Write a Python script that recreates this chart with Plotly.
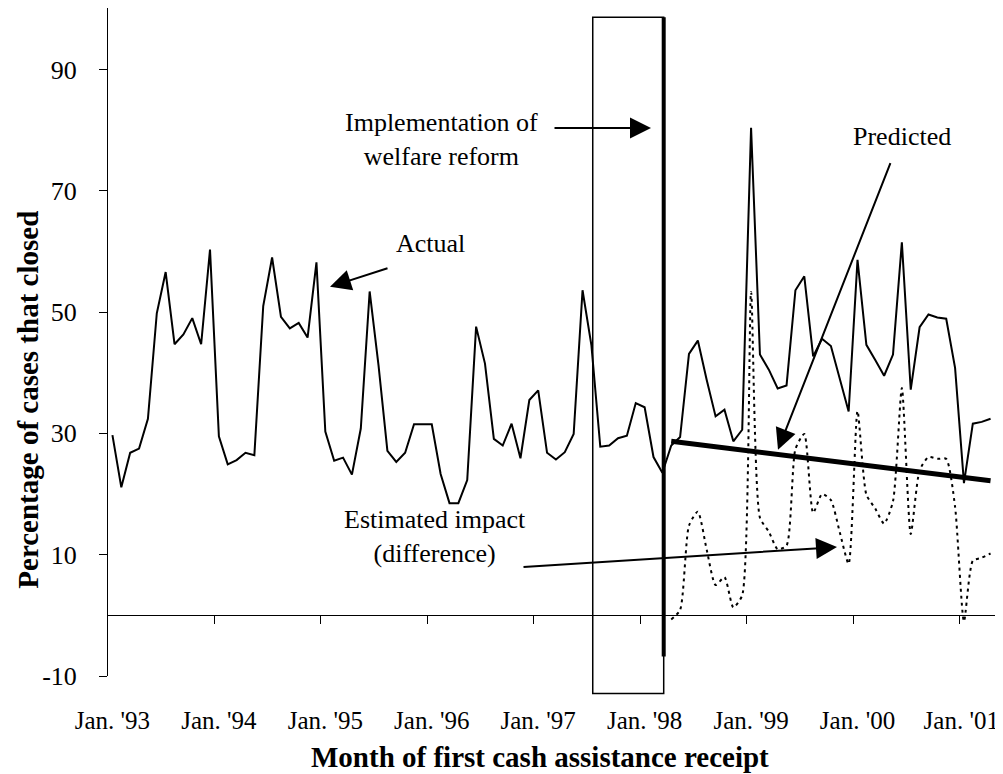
import plotly.graph_objects as go
import pandas as pd

# ---------------- data ----------------
months = pd.date_range("1993-01-01", periods=100, freq="MS")
actual = [29.7, 21.1, 26.8, 27.5, 32.4, 49.8, 56.6, 44.7, 46.3, 49.0, 44.7, 60.3,
          29.5, 24.9, 25.6, 26.8, 26.4, 51.0, 59.0, 49.2, 47.3, 48.2, 45.8, 58.2,
          30.3, 25.5, 26.0, 23.2, 30.8, 53.4, 41.2, 27.1, 25.3, 26.8, 31.5, 31.5,
          31.5, 23.3, 18.5, 18.5, 22.3, 47.6, 41.5, 29.1, 28.0, 31.6, 25.9, 35.5,
          37.1, 26.8, 25.7, 26.9, 29.9, 53.6, 44.5, 27.8, 28.0, 29.2, 29.6, 35.0,
          34.3, 26.1, 23.5, 28.0, 29.4, 43.1, 45.3, 38.8, 32.8, 33.9, 28.7, 30.6,
          80.4, 43.0, 40.5, 37.4, 37.9, 53.6, 55.9, 42.7, 45.6, 44.4, 39.0, 33.6,
          58.6, 44.6, 42.1, 39.5, 43.0, 61.5, 37.2, 47.5, 49.6, 49.1, 48.9, 40.8,
          21.8, 31.6, 31.9, 32.4]
impact_start = 63  # first month (index) after reform
impact = [-0.7, 0.9, 14.8, 17.1, 10.8, 5.0, 6.3, 1.3, 3.3, 53.3, 16.1, 13.8,
          10.9, 11.5, 27.4, 29.9, 16.9, 20.0, 19.0, 13.7, 8.5, 33.7, 19.9, 17.6,
          15.1, 18.8, 37.5, 13.4, 23.9, 26.1, 25.8, 25.8, 17.9, -1.0, 9.0, 9.5, 10.2]
predicted_idx = [63, 99]
predicted = [28.7, 22.2]
year_ticks = [0, 12, 24, 36, 48, 60, 72, 84, 96]
year_labels = ["Jan. '93", "Jan. '94", "Jan. '95", "Jan. '96", "Jan. '97",
               "Jan. '98", "Jan. '99", "Jan. '00", "Jan. '01"]
y_ticks = [-10, 10, 30, 50, 70, 90]
y_labels = ["-10", "10", "30", "50", "70", "90"]

# ---------------- layout constants (page pixels) ----------------
OFF = 8                      # default page margin around the plot div
W, H = 1003 - OFF, 774 - OFF
PLOT_L, PLOT_R, PLOT_T, PLOT_B = 108, 995, 8, 676.5
ML = PLOT_L - OFF
MR = W - (PLOT_R - OFF)
MT = PLOT_T - OFF
MB = H - (PLOT_B - OFF)
YMIN = -10
PX_PER_UNIT = 6.07
YMAX = YMIN + (PLOT_B - PLOT_T) / PX_PER_UNIT
XMIN, XMAX = -0.5, len(actual) - 0.5
FONT = "Liberation Serif"
FS = 26
FS_TICK = 25
FS_TITLE = 29
PW = PLOT_R - PLOT_L
PH = PLOT_B - PLOT_T


def px(x):   # page pixel x -> paper
    return (x - PLOT_L) / PW


def py(y):   # page pixel y -> paper
    return (PLOT_B - y) / PH


def dx(v):   # data x -> paper
    return (v - XMIN) / (XMAX - XMIN)


def dy(v):   # data y -> paper
    return (v - YMIN) / (YMAX - YMIN)


idx = list(range(len(actual)))
impact_idx = list(range(impact_start, impact_start + len(impact)))

# keep the last year label inside the page edge
label_pos = year_ticks[:-1] + [year_ticks[-1] - 0.3]

fig = go.Figure()
fig.add_trace(go.Scatter(x=idx, y=actual, mode="lines",
                         line=dict(color="black", width=2), showlegend=False,
                         hoverinfo="skip"))
fig.add_trace(go.Scatter(x=predicted_idx, y=predicted, mode="lines",
                         line=dict(color="black", width=5), showlegend=False,
                         hoverinfo="skip"))
fig.add_trace(go.Scatter(x=impact_idx, y=impact, mode="lines", xaxis="x2",
                         line=dict(color="black", width=2, dash="3px,4px",
                                   shape="spline", smoothing=0.6),
                         showlegend=False, hoverinfo="skip"))

reform_x = 62.15
box_x0 = 54.15
shapes = [
    dict(type="rect", xref="paper", yref="paper",
         x0=dx(box_x0), x1=dx(reform_x), y0=dy(-12.9), y1=dy(98.6),
         line=dict(color="black", width=1.5), fillcolor="rgba(0,0,0,0)"),
    dict(type="line", xref="paper", yref="paper",
         x0=dx(reform_x), x1=dx(reform_x), y0=dy(-6.8), y1=dy(98.6),
         line=dict(color="black", width=4)),
]

ann = []
txt = dict(xref="paper", yref="paper", showarrow=False,
           font=dict(family=FONT, size=FS, color="black"),
           xanchor="center", yanchor="middle")
ttl = dict(txt, font=dict(family=FONT, size=FS_TITLE, color="black"))
ann.append(dict(txt, x=px(441), y=py(140), text="Implementation of<br>welfare reform"))
ann.append(dict(txt, x=px(430), y=py(244), text="Actual"))
ann.append(dict(txt, x=px(902), y=py(137), text="Predicted"))
ann.append(dict(txt, x=px(435), y=py(537), text="Estimated impact<br>(difference)"))
ann.append(dict(ttl, x=px(540), y=py(758),
                text="<b>Month of first cash assistance receipt</b>"))
ann.append(dict(ttl, x=px(28), y=py(400), textangle=-90,
                text="<b>Percentage of cases that closed</b>"))

arr = dict(xref="paper", yref="paper", showarrow=True, text="",
           arrowhead=2, arrowwidth=2, arrowsize=2.1, arrowcolor="black",
           standoff=0, axref="pixel", ayref="pixel")
ann.append(dict(arr, x=px(651), y=py(128), ax=-98, ay=0))
ann.append(dict(arr, x=px(330), y=py(287), ax=59, ay=-19))
ann.append(dict(arr, x=px(778), y=py(450), ax=113, ay=-288))
ann.append(dict(arr, x=px(837), y=py(547.5), ax=-315, ay=20))

fig.update_layout(
    width=W, height=H,
    margin=dict(l=ML, r=MR, t=MT, b=MB, pad=0, autoexpand=False),
    paper_bgcolor="white", plot_bgcolor="white",
    font=dict(family=FONT, size=FS, color="black"),
    xaxis=dict(range=[XMIN, XMAX], tickvals=label_pos, ticktext=year_labels,
               showline=False, showgrid=False, zeroline=False, automargin=False,
               ticks="outside", ticklen=22, tickcolor="rgba(0,0,0,0)",
               ticklabeloverflow="allow",
               tickfont=dict(family=FONT, size=FS_TICK)),
    xaxis2=dict(range=[XMIN, XMAX], overlaying="x", anchor="free",
                position=dy(0), side="bottom", automargin=False,
                tickvals=[v - 0.5 for v in year_ticks[1:]],
                showticklabels=False, ticks="outside", ticklen=8,
                tickcolor="black", tickwidth=1,
                showline=True, linecolor="black", linewidth=1,
                showgrid=False, zeroline=False),
    yaxis=dict(range=[YMIN, YMAX], tickvals=y_ticks, ticktext=y_labels,
               showline=True, automargin=False,
               linecolor="black", linewidth=1, ticks="outside", ticklen=8,
               tickcolor="black", showgrid=False, zeroline=False,
               ticklabelstandoff=17, tickfont=dict(family=FONT, size=FS)),
    shapes=shapes, annotations=ann,
)

fig.write_html("out.html")
